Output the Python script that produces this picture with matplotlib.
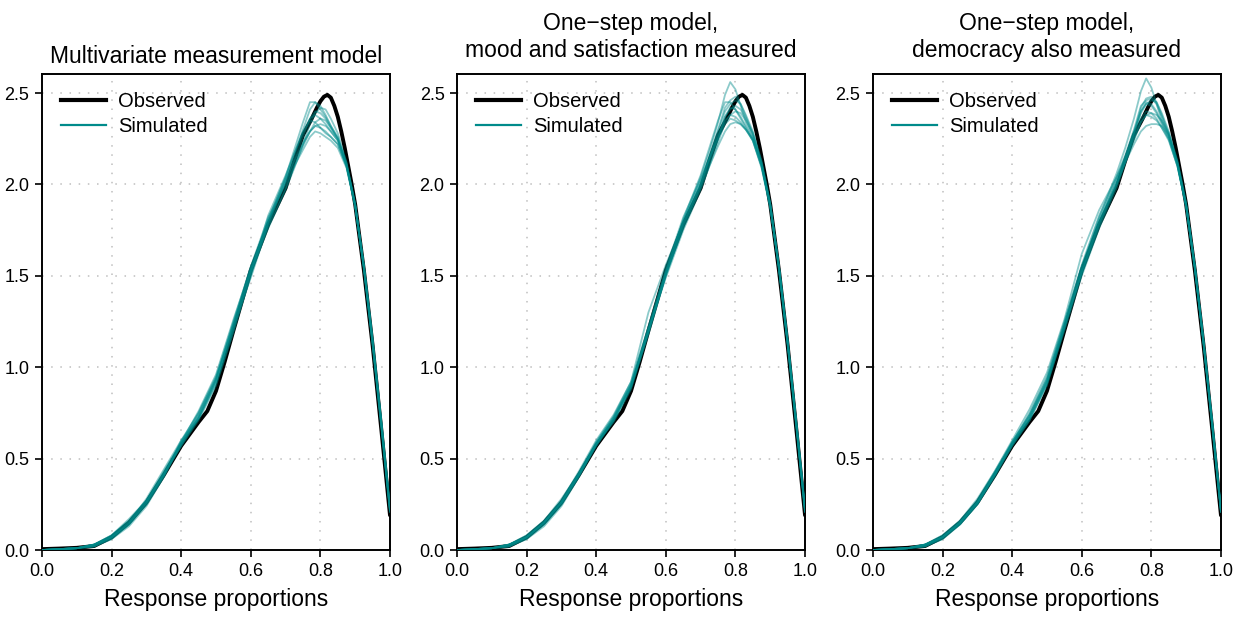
import matplotlib
matplotlib.use('Agg')
import matplotlib.pyplot as plt
from matplotlib.lines import Line2D

plt.rcParams['font.family'] = ['Liberation Sans', 'DejaVu Sans']

# titles of the three panels
titles = [
    'Multivariate measurement model',
    'One\u2212step model,\nmood and satisfaction measured',
    'One\u2212step model,\ndemocracy also measured',
]

# observed density (same data in every panel)
obs_x = [0.0, 0.05, 0.1, 0.15, 0.2, 0.25, 0.3, 0.35, 0.4, 0.45, 0.475, 0.5, 0.525, 0.55,
         0.6, 0.65, 0.7, 0.725, 0.75, 0.775, 0.79, 0.8, 0.81, 0.82, 0.83, 0.84, 0.85,
         0.86, 0.87, 0.88, 0.89, 0.9, 0.925, 0.95, 0.975, 1.0]
obs_y = [0.005, 0.008, 0.012, 0.022, 0.07, 0.15, 0.26, 0.41, 0.57, 0.70, 0.76, 0.87, 1.03, 1.20,
         1.53, 1.78, 1.98, 2.13, 2.27, 2.36, 2.42, 2.455, 2.48, 2.49, 2.475, 2.43, 2.37,
         2.29, 2.20, 2.10, 2.00, 1.89, 1.53, 1.12, 0.66, 0.19]

# simulated densities
sim_x = [0.0, 0.1, 0.15, 0.2, 0.25, 0.3, 0.35, 0.4, 0.45, 0.5, 0.55, 0.6, 0.65,
         0.7, 0.725, 0.75, 0.77, 0.785, 0.8, 0.815, 0.83, 0.85, 0.875, 0.9,
         0.925, 0.95, 0.975, 1.0]

sim_multivariate = [
    [0.00, 0.01, 0.03, 0.08, 0.16, 0.27, 0.42, 0.58, 0.73, 0.93, 1.24, 1.53, 1.80, 2.03, 2.16, 2.30, 2.41, 2.45, 2.43, 2.38, 2.32, 2.25, 2.11, 1.88, 1.54, 1.13, 0.68, 0.21],
    [0.00, 0.01, 0.02, 0.06, 0.14, 0.25, 0.41, 0.59, 0.75, 0.95, 1.25, 1.55, 1.82, 2.00, 2.10, 2.19, 2.26, 2.29, 2.28, 2.26, 2.24, 2.20, 2.09, 1.88, 1.55, 1.15, 0.70, 0.23],
    [0.00, 0.01, 0.03, 0.07, 0.15, 0.28, 0.44, 0.60, 0.72, 0.91, 1.20, 1.50, 1.79, 2.02, 2.14, 2.26, 2.36, 2.40, 2.39, 2.36, 2.31, 2.25, 2.11, 1.89, 1.55, 1.14, 0.69, 0.22],
    [0.00, 0.01, 0.02, 0.07, 0.14, 0.26, 0.42, 0.59, 0.76, 0.96, 1.26, 1.54, 1.77, 1.98, 2.10, 2.21, 2.29, 2.34, 2.36, 2.35, 2.31, 2.25, 2.11, 1.88, 1.54, 1.13, 0.69, 0.22],
    [0.00, 0.01, 0.03, 0.08, 0.17, 0.27, 0.41, 0.57, 0.71, 0.90, 1.19, 1.51, 1.83, 2.05, 2.17, 2.28, 2.35, 2.34, 2.31, 2.28, 2.26, 2.22, 2.10, 1.89, 1.55, 1.15, 0.70, 0.23],
    [0.00, 0.01, 0.03, 0.07, 0.15, 0.25, 0.40, 0.58, 0.74, 0.94, 1.23, 1.52, 1.76, 1.97, 2.09, 2.22, 2.33, 2.39, 2.42, 2.41, 2.36, 2.28, 2.12, 1.89, 1.54, 1.12, 0.67, 0.21],
    [0.00, 0.01, 0.02, 0.06, 0.13, 0.24, 0.40, 0.60, 0.75, 0.94, 1.22, 1.49, 1.78, 2.02, 2.13, 2.23, 2.29, 2.32, 2.31, 2.29, 2.26, 2.22, 2.10, 1.89, 1.56, 1.16, 0.71, 0.24],
    [0.00, 0.01, 0.03, 0.08, 0.16, 0.27, 0.43, 0.59, 0.72, 0.92, 1.21, 1.53, 1.81, 2.04, 2.17, 2.29, 2.36, 2.38, 2.36, 2.33, 2.29, 2.24, 2.10, 1.88, 1.55, 1.14, 0.69, 0.22],
    [0.00, 0.01, 0.03, 0.07, 0.15, 0.26, 0.42, 0.57, 0.72, 0.93, 1.24, 1.55, 1.80, 2.04, 2.19, 2.34, 2.45, 2.45, 2.41, 2.37, 2.32, 2.26, 2.12, 1.89, 1.54, 1.13, 0.68, 0.21],
    [0.00, 0.01, 0.02, 0.07, 0.14, 0.26, 0.41, 0.58, 0.73, 0.93, 1.23, 1.52, 1.79, 2.01, 2.12, 2.22, 2.29, 2.32, 2.33, 2.32, 2.29, 2.24, 2.10, 1.88, 1.55, 1.14, 0.70, 0.22],
]

sim_mood = [
    [0.00, 0.01, 0.03, 0.07, 0.15, 0.26, 0.41, 0.58, 0.72, 0.90, 1.20, 1.52, 1.80, 2.04, 2.18, 2.34, 2.49, 2.56, 2.52, 2.43, 2.34, 2.26, 2.11, 1.88, 1.54, 1.13, 0.68, 0.21],
    [0.00, 0.01, 0.02, 0.06, 0.14, 0.25, 0.40, 0.57, 0.71, 0.89, 1.18, 1.50, 1.77, 1.98, 2.10, 2.21, 2.29, 2.33, 2.34, 2.33, 2.30, 2.24, 2.10, 1.88, 1.55, 1.14, 0.69, 0.22],
    [0.00, 0.01, 0.03, 0.08, 0.16, 0.27, 0.42, 0.59, 0.73, 0.92, 1.30, 1.56, 1.79, 2.00, 2.13, 2.26, 2.37, 2.42, 2.41, 2.37, 2.32, 2.25, 2.11, 1.89, 1.53, 1.12, 0.67, 0.21],
    [0.00, 0.01, 0.02, 0.07, 0.15, 0.26, 0.41, 0.58, 0.70, 0.88, 1.19, 1.51, 1.76, 1.99, 2.14, 2.29, 2.40, 2.44, 2.46, 2.44, 2.38, 2.29, 2.13, 1.90, 1.55, 1.13, 0.68, 0.21],
    [0.00, 0.01, 0.03, 0.07, 0.15, 0.27, 0.43, 0.60, 0.74, 0.92, 1.22, 1.54, 1.82, 2.03, 2.14, 2.25, 2.33, 2.36, 2.35, 2.33, 2.30, 2.25, 2.10, 1.88, 1.55, 1.14, 0.70, 0.23],
    [0.00, 0.01, 0.02, 0.06, 0.13, 0.24, 0.40, 0.58, 0.72, 0.90, 1.20, 1.51, 1.78, 2.01, 2.15, 2.30, 2.42, 2.46, 2.48, 2.44, 2.37, 2.28, 2.12, 1.89, 1.54, 1.13, 0.69, 0.22],
    [0.00, 0.01, 0.03, 0.07, 0.15, 0.26, 0.41, 0.57, 0.71, 0.90, 1.21, 1.49, 1.75, 1.97, 2.10, 2.23, 2.34, 2.38, 2.40, 2.39, 2.35, 2.28, 2.12, 1.89, 1.55, 1.14, 0.69, 0.22],
    [0.00, 0.01, 0.03, 0.08, 0.16, 0.28, 0.42, 0.59, 0.73, 0.91, 1.22, 1.53, 1.80, 2.02, 2.15, 2.27, 2.35, 2.38, 2.37, 2.34, 2.30, 2.24, 2.10, 1.88, 1.55, 1.15, 0.70, 0.23],
    [0.00, 0.01, 0.02, 0.07, 0.14, 0.25, 0.41, 0.58, 0.72, 0.90, 1.19, 1.52, 1.81, 2.05, 2.20, 2.35, 2.45, 2.45, 2.41, 2.36, 2.31, 2.24, 2.09, 1.87, 1.55, 1.14, 0.69, 0.22],
    [0.00, 0.01, 0.03, 0.07, 0.15, 0.26, 0.42, 0.58, 0.71, 0.89, 1.20, 1.50, 1.78, 2.00, 2.12, 2.25, 2.37, 2.41, 2.43, 2.41, 2.36, 2.27, 2.11, 1.89, 1.54, 1.13, 0.68, 0.21],
]

sim_democracy = [
    [0.00, 0.01, 0.03, 0.07, 0.15, 0.26, 0.42, 0.59, 0.74, 0.94, 1.24, 1.55, 1.82, 2.06, 2.20, 2.36, 2.51, 2.58, 2.53, 2.44, 2.35, 2.27, 2.11, 1.88, 1.54, 1.13, 0.68, 0.21],
    [0.00, 0.01, 0.02, 0.06, 0.14, 0.25, 0.41, 0.58, 0.73, 0.92, 1.22, 1.53, 1.79, 2.00, 2.12, 2.22, 2.29, 2.32, 2.33, 2.33, 2.32, 2.27, 2.12, 1.89, 1.55, 1.14, 0.69, 0.22],
    [0.00, 0.01, 0.03, 0.08, 0.16, 0.27, 0.43, 0.60, 0.77, 0.97, 1.26, 1.62, 1.86, 2.04, 2.15, 2.28, 2.40, 2.45, 2.44, 2.40, 2.34, 2.26, 2.11, 1.88, 1.54, 1.13, 0.68, 0.21],
    [0.00, 0.01, 0.03, 0.07, 0.15, 0.27, 0.42, 0.58, 0.72, 0.91, 1.20, 1.50, 1.76, 1.98, 2.12, 2.27, 2.39, 2.44, 2.46, 2.45, 2.39, 2.29, 2.13, 1.90, 1.55, 1.13, 0.68, 0.21],
    [0.00, 0.01, 0.02, 0.07, 0.14, 0.25, 0.40, 0.57, 0.71, 0.90, 1.21, 1.52, 1.79, 2.02, 2.15, 2.29, 2.40, 2.44, 2.43, 2.39, 2.33, 2.25, 2.10, 1.88, 1.54, 1.14, 0.70, 0.23],
    [0.00, 0.01, 0.03, 0.07, 0.15, 0.26, 0.41, 0.58, 0.75, 0.95, 1.25, 1.55, 1.80, 2.01, 2.13, 2.26, 2.36, 2.40, 2.39, 2.36, 2.31, 2.24, 2.10, 1.88, 1.55, 1.14, 0.69, 0.22],
    [0.00, 0.01, 0.03, 0.08, 0.16, 0.28, 0.43, 0.59, 0.73, 0.93, 1.23, 1.51, 1.77, 2.00, 2.14, 2.28, 2.42, 2.47, 2.48, 2.45, 2.38, 2.28, 2.12, 1.89, 1.55, 1.13, 0.68, 0.21],
    [0.00, 0.01, 0.02, 0.06, 0.14, 0.25, 0.41, 0.59, 0.74, 0.93, 1.22, 1.53, 1.81, 2.03, 2.14, 2.25, 2.34, 2.38, 2.37, 2.35, 2.31, 2.25, 2.10, 1.88, 1.55, 1.14, 0.69, 0.22],
    [0.00, 0.01, 0.03, 0.07, 0.15, 0.26, 0.42, 0.58, 0.72, 0.92, 1.24, 1.56, 1.83, 2.04, 2.16, 2.30, 2.43, 2.46, 2.47, 2.44, 2.37, 2.27, 2.11, 1.88, 1.54, 1.13, 0.68, 0.21],
    [0.00, 0.01, 0.02, 0.07, 0.15, 0.26, 0.41, 0.57, 0.71, 0.91, 1.22, 1.52, 1.78, 2.00, 2.12, 2.24, 2.34, 2.38, 2.39, 2.38, 2.35, 2.28, 2.12, 1.89, 1.55, 1.14, 0.69, 0.22],
]

sim_sets = [sim_multivariate, sim_mood, sim_democracy]
teal = '#008B8B'

fig = plt.figure(figsize=(12.46, 6.18), dpi=100)
lefts = [0.0337, 0.3668, 0.7006]
title_pads = [8, 12, 12]

for k in range(3):
    ax = fig.add_axes([lefts[k], 0.110, 0.2793, 0.7702])
    ax.plot(obs_x, obs_y, color='black', lw=2.8, solid_capstyle='round',
            solid_joinstyle='round', zorder=3)
    for curve in sim_sets[k]:
        ax.plot(sim_x, curve, color=teal, lw=1.3, alpha=0.45,
                solid_joinstyle='round', zorder=4)

    ax.set_xlim(0, 1)
    ax.set_ylim(0, 2.604)
    ax.set_xticks([0.0, 0.2, 0.4, 0.6, 0.8, 1.0])
    ax.set_yticks([0.0, 0.5, 1.0, 1.5, 2.0, 2.5])
    ax.xaxis.set_major_formatter(plt.FormatStrFormatter('%.1f'))
    ax.yaxis.set_major_formatter(plt.FormatStrFormatter('%.1f'))
    ax.tick_params(direction='out', length=5, width=1.2, labelsize=13, pad=4)
    ax.grid(True, color='#bebebe', linestyle=(0, (1, 5)), lw=1.1)
    ax.set_axisbelow(True)
    for sp in ax.spines.values():
        sp.set_linewidth(1.4)

    ax.set_xlabel('Response proportions', fontsize=16.5, labelpad=6)
    ax.set_title(titles[k], fontsize=16.5, pad=title_pads[k], linespacing=1.25)

    handles = [Line2D([], [], color='black', lw=3),
               Line2D([], [], color=teal, lw=1.6)]
    ax.legend(handles, ['Observed', 'Simulated'], loc='upper left',
              bbox_to_anchor=(0.054, 0.962), frameon=False, fontsize=14.5,
              handlelength=2.25, handletextpad=0.6, labelspacing=0.3,
              borderpad=0, borderaxespad=0)

fig.savefig('out.png', dpi=100)
